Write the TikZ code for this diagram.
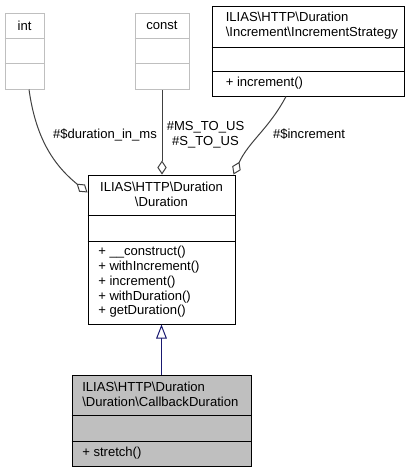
\documentclass[tikz,border=0pt]{standalone}
\usepackage{fontspec}
\setmainfont{Liberation Sans}
\usetikzlibrary{arrows.meta}
\definecolor{usagegray}{HTML}{404040}
\definecolor{inhblue}{HTML}{191970}
\definecolor{boxgray}{HTML}{BFBFBF}
\tikzset{
  cls/.style={draw=black, line width=0.75pt, inner sep=0pt, rectangle},
  extcls/.style={draw=boxgray, line width=0.75pt, inner sep=0pt, rectangle},
  txt/.style={inner sep=0pt, font=\fontsize{9.8}{11.1}\selectfont},
  usage/.style={draw=usagegray, line width=0.75pt, {Diamond[open,length=10.5pt,width=7pt,fill=white]}-},
  inherit/.style={draw=inhblue, line width=0.75pt, -{Triangle[open,length=10.5pt,width=8pt,fill=white]}},
  lbl/.style={inner sep=0pt, font=\fontsize{9.8}{11.1}\selectfont, align=center}
}
\begin{document}
\begin{tikzpicture}[x=0.75pt,y=-0.75pt]
\useasboundingbox (0,0) rectangle (414,472);
% int
\node[extcls, minimum width=39*0.75pt, minimum height=76*0.75pt] (int) at (24.5,51) {};
\draw[boxgray, line width=0.75pt] (int.west |- 0,38) -- (int.east |- 0,38);
\draw[boxgray, line width=0.75pt] (int.west |- 0,63) -- (int.east |- 0,63);
\node[txt] (intT) at (24.5,25.5) {int};
% const
\node[extcls, minimum width=54*0.75pt, minimum height=76*0.75pt] (const) at (162,51) {};
\draw[boxgray, line width=0.75pt] (const.west |- 0,38) -- (const.east |- 0,38);
\draw[boxgray, line width=0.75pt] (const.west |- 0,63) -- (const.east |- 0,63);
\node[txt] (constT) at (162,25.5) {const};
% IncrementStrategy
\node[cls, minimum width=192*0.75pt, minimum height=90*0.75pt] (inc) at (308,51) {};
\draw[line width=0.75pt] (inc.west |- 0,47) -- (inc.east |- 0,47);
\draw[line width=0.75pt] (inc.west |- 0,71) -- (inc.east |- 0,71);
\node[txt, anchor=west, align=left] (incT) at (225.5,25.5) {ILIAS\textbackslash HTTP\textbackslash Duration\\\textbackslash Increment\textbackslash IncrementStrategy};
\node[txt, anchor=west] (incM) at (225.5,83.5) {+ increment()};
% Duration
\node[cls, minimum width=147*0.75pt, minimum height=149*0.75pt] (dur) at (161.5,249.5) {};
\draw[line width=0.75pt] (dur.west |- 0,215) -- (dur.east |- 0,215);
\draw[line width=0.75pt] (dur.west |- 0,241) -- (dur.east |- 0,241);
\node[txt, align=center] (durT) at (161.5,194.5) {ILIAS\textbackslash HTTP\textbackslash Duration\\\textbackslash Duration};
\node[txt, anchor=west, align=left] (durM) at (98,282) {+ \_\_construct()\\+ withIncrement()\\+ increment()\\+ withDuration()\\+ getDuration()};
% CallbackDuration
\node[cls, fill=boxgray, minimum width=179*0.75pt, minimum height=91*0.75pt] (cb) at (161.5,420.5) {};
\draw[line width=0.75pt] (cb.west |- 0,415) -- (cb.east |- 0,415);
\draw[line width=0.75pt] (cb.west |- 0,441) -- (cb.east |- 0,441);
\node[txt, anchor=west, align=left] (cbT) at (82,394.5) {ILIAS\textbackslash HTTP\textbackslash Duration\\\textbackslash Duration\textbackslash CallbackDuration};
\node[txt, anchor=west] (cbM) at (82,453) {+ stretch()};
% connectors
\draw[inherit] (cb.north) -- (dur.south);
\draw[usage] (dur.north -| const.south) -- (const.south);
\draw[usage] ([yshift=-18*0.75pt]dur.north west) to[out=141,in=-82] ([xshift=4.5*0.75pt]int.south);
\draw[usage] ([xshift=-2*0.75pt]dur.north east) to[out=65,in=-118] ([xshift=-22*0.75pt]inc.south);
% labels
\node[lbl] (l1) at (105,135) {\#\$duration\_in\_ms};
\node[lbl] (l2) at (205.5,135) {\#MS\_TO\_US\\\#S\_TO\_US};
\node[lbl] (l3) at (309,134) {\#\$increment};
\end{tikzpicture}
\end{document}
